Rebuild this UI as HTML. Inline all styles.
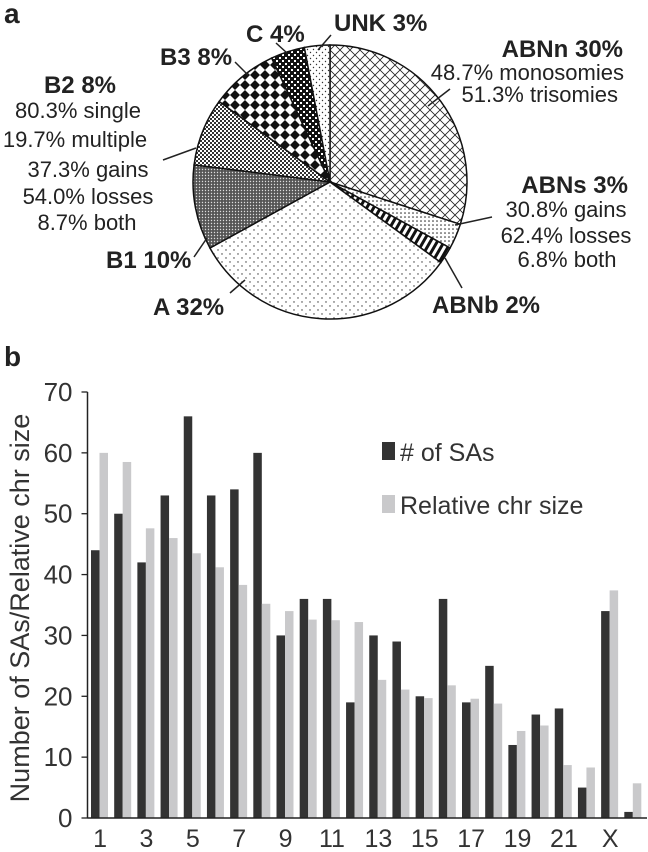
<!DOCTYPE html>
<html><head><meta charset="utf-8"><style>
body{margin:0;background:#fff}
svg{display:block;font-family:"Liberation Sans",Arial,sans-serif}
</style></head><body>
<svg id="fig" width="648" height="852" viewBox="0 0 648 852">
<defs>
<pattern id="pNn" width="10" height="10" patternUnits="userSpaceOnUse"><path d="M0,0L10,10M10,0L0,10" stroke="#222" stroke-width="0.8"/></pattern>
<pattern id="pNs" width="4" height="4" patternUnits="userSpaceOnUse"><circle cx="1" cy="1" r="0.8" fill="#222"/></pattern>
<pattern id="pNb" width="6" height="6" patternUnits="userSpaceOnUse" patternTransform="rotate(30)"><rect width="3" height="6" fill="#111"/></pattern>
<pattern id="pA" width="8" height="8" patternUnits="userSpaceOnUse"><circle cx="2" cy="2" r="0.7" fill="#333"/><circle cx="6" cy="6" r="0.7" fill="#333"/></pattern>
<pattern id="pB1" width="3" height="3" patternUnits="userSpaceOnUse"><rect width="3" height="3" fill="#555"/><circle cx="1.5" cy="1.5" r="0.7" fill="#ddd"/></pattern>
<pattern id="pB2" width="4" height="4" patternUnits="userSpaceOnUse"><rect width="2" height="2" fill="#333"/><rect x="2" y="2" width="2" height="2" fill="#333"/></pattern>
<pattern id="pB3" width="10" height="10" patternUnits="userSpaceOnUse"><path d="M5,0L10,5L5,10L0,5Z" fill="#111"/></pattern>
<pattern id="pC" width="6" height="6" patternUnits="userSpaceOnUse"><rect width="6" height="6" fill="#111"/><rect width="2" height="2" fill="#fff"/><rect x="3" y="3" width="2" height="2" fill="#fff"/></pattern>
<pattern id="pU" width="6" height="6" patternUnits="userSpaceOnUse"><circle cx="1.5" cy="1.5" r="0.7" fill="#333"/><circle cx="4.5" cy="4.5" r="0.7" fill="#333"/></pattern>
</defs>
<text x="4" y="23" font-size="28" font-weight="bold" fill="#222">a</text>
<g id="pie"></g>
<g id="pielabels" fill="#222">
<text x="334" y="31" font-size="24" font-weight="bold">UNK 3%</text>
<text x="246" y="42" font-size="24" font-weight="bold">C 4%</text>
<text x="160" y="65" font-size="24" font-weight="bold">B3 8%</text>
<g text-anchor="middle" font-size="22">
<text x="80" y="93" font-size="24" font-weight="bold">B2 8%</text>
<text x="78" y="118">80.3% single</text>
<text x="75" y="147">19.7% multiple</text>
<text x="88" y="177">37.3% gains</text>
<text x="88" y="204">54.0% losses</text>
<text x="87" y="230">8.7% both</text>
</g>
<text x="106" y="268" font-size="24" font-weight="bold">B1 10%</text>
<text x="153" y="315" font-size="24" font-weight="bold">A 32%</text>
<text x="432" y="313" font-size="24" font-weight="bold">ABNb 2%</text>
<g text-anchor="end" font-size="22">
<text x="623" y="57" font-size="24" font-weight="bold">ABNn 30%</text>
<text x="624" y="80">48.7% monosomies</text>
<text x="618" y="102">51.3% trisomies</text>
</g>
<g text-anchor="middle" font-size="22">
<text x="628" y="193" font-size="24" font-weight="bold" text-anchor="end">ABNs 3%</text>
<text x="566" y="217">30.8% gains</text>
<text x="566" y="243">62.4% losses</text>
<text x="567" y="267">6.8% both</text>
</g>
</g>
<g stroke="#222" stroke-width="1.5">
<line x1="318" y1="50" x2="331" y2="35"/>
<line x1="287" y1="53" x2="276" y2="43"/>
<line x1="248" y1="75" x2="235" y2="62"/>
<line x1="163" y1="160" x2="196" y2="148"/>
<line x1="194" y1="257" x2="207" y2="238"/>
<line x1="230" y1="293" x2="245" y2="280"/>
<line x1="445" y1="258" x2="462" y2="288"/>
<line x1="428" y1="106" x2="450" y2="89"/>
<line x1="455" y1="225" x2="492" y2="217"/>
</g>
<text x="4" y="366" font-size="28" font-weight="bold" fill="#222">b</text>
<g id="bars"></g>
</svg>
<script>
// Pie data
const pieNames = ['ABNn','ABNs','ABNb','A','B1','B2','B3','C','UNK'];
const pieValues = [30,3,2,32,10,8,8,4,3];
// Bar data
const chrCats = ['1','2','3','4','5','6','7','8','9','10','11','12','13','14','15','16','17','18','19','20','21','22','X','Y'];
const saCounts = [44,50,42,53,66,53,54,60,30,36,36,19,30,29,20,36,19,25,12,17,18,5,34,1];
const relSizes = [60,58.5,47.6,46,43.5,41.2,38.3,35.2,34,32.6,32.5,32.2,22.7,21.1,19.7,21.8,19.6,18.8,14.3,15.2,8.7,8.3,37.4,5.7];
const yTicks = [0,10,20,30,40,50,60,70];
const xTickLabels = ['1','3','5','7','9','11','13','15','17','19','21','X'];

const NS='http://www.w3.org/2000/svg';
function mk(tag,attrs,parent){const e=document.createElementNS(NS,tag);for(const k in attrs)e.setAttribute(k,attrs[k]);parent.appendChild(e);return e;}

// Pie
(function(){
const g=document.getElementById('pie');
const cx=330,cy=182,r=137;
const fills=['pNn','pNs','pNb','pA','pB1','pB2','pB3','pC','pU'];
const total=pieValues.reduce((a,b)=>a+b,0);
let acc=0;
pieValues.forEach((v,i)=>{
 const a0=acc/total*2*Math.PI; acc+=v; const a1=acc/total*2*Math.PI;
 const x0=cx+r*Math.sin(a0),y0=cy-r*Math.cos(a0),x1=cx+r*Math.sin(a1),y1=cy-r*Math.cos(a1);
 const large=(a1-a0)>Math.PI?1:0;
 mk('path',{d:`M${cx},${cy}L${x0},${y0}A${r},${r} 0 ${large} 1 ${x1},${y1}Z`,fill:'#fff',stroke:'none'},g);
 const p2=mk('path',{d:`M${cx},${cy}L${x0},${y0}A${r},${r} 0 ${large} 1 ${x1},${y1}Z`,fill:`url(#${fills[i]})`,stroke:'#111','stroke-width':1.5},g);
 
 
});
})();

// Bars
(function(){
const g=document.getElementById('bars');
const x0=87.5,x1=644,y0=818,yTop=392,ymax=70;
const gw=(x1-x0)/chrCats.length;
const ys=v=>y0-(v/ymax)*(y0-yTop);
yTicks.forEach(t=>{
 const y=ys(t);
 mk('line',{x1:x0-6,x2:x0,y1:y,y2:y,stroke:'#222','stroke-width':1.3},g);
 const tx=mk('text',{x:x0-15,y:y+9,'text-anchor':'end','font-size':26,fill:'#333'},g);
 tx.textContent=t;
 
 
});
chrCats.forEach((c,i)=>{
 const gx=x0+i*gw;
 const b1=mk('rect',{x:gx+3.5,y:ys(saCounts[i]),width:8.5,height:y0-ys(saCounts[i]),fill:'#333'},g);
 
 
 const b2=mk('rect',{x:gx+12,y:ys(relSizes[i]),width:8.5,height:y0-ys(relSizes[i]),fill:'#c9c9cb'},g);
 
 
});
xTickLabels.forEach((l,k)=>{
 const i=k*2;
 const tx=mk('text',{x:x0+i*gw+gw/2+1,y:847,'text-anchor':'middle','font-size':25,fill:'#333'},g);
 tx.textContent=l;
 
 
});
mk('line',{x1:x0,x2:x0,y1:yTop,y2:y0,stroke:'#222','stroke-width':1.5},g);
mk('line',{x1:x0,x2:647,y1:y0,y2:y0,stroke:'#222','stroke-width':1.5},g);
const yt=mk('text',{x:0,y:0,transform:'translate(29,608) rotate(-90)','text-anchor':'middle','font-size':27,fill:'#333'},g);
yt.textContent='Number of SAs/Relative chr size';


const l1=mk('rect',{x:382,y:442,width:13,height:18,fill:'#333'},g);


const lt1=mk('text',{x:400,y:461,'font-size':25,fill:'#333'},g);lt1.textContent='# of SAs';


const l2=mk('rect',{x:382,y:495,width:13,height:18,fill:'#c9c9cb'},g);


const lt2=mk('text',{x:400,y:514,'font-size':25,fill:'#333'},g);lt2.textContent='Relative chr size';


})();
</script>
</body></html>
